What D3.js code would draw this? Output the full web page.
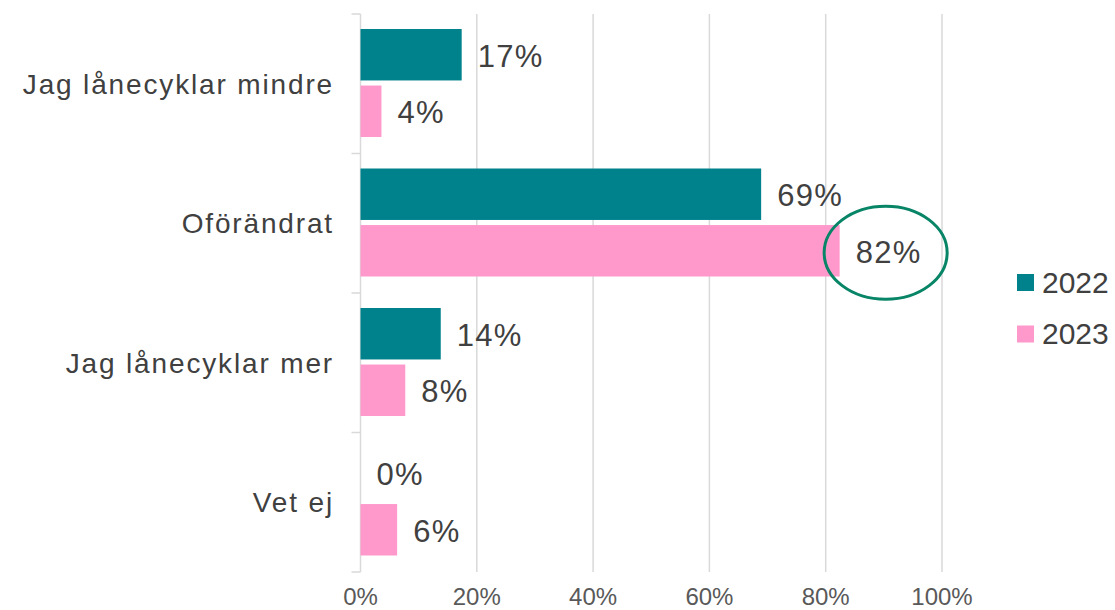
<!DOCTYPE html>
<html>
<head>
<meta charset="utf-8">
<script src="https://cdn.jsdelivr.net/npm/d3@7"></script>
<style>
  body { margin: 0; background: #fff; }
  text { font-family: Arial, "Liberation Sans", sans-serif; }
</style>
</head>
<body>
<script>
// data
var categories = ['Jag lånecyklar mindre', 'Oförändrat', 'Jag lånecyklar mer', 'Vet ej'];
var years = ['2022', '2023'];
var values2022 = [0.174, 0.689, 0.138, 0];
var values2023 = [0.036, 0.824, 0.077, 0.063];
var xTicks = [0, 0.2, 0.4, 0.6, 0.8, 1];
var highlight = { category: 'Oförändrat', year: '2023' };

var WIDTH = 1115;
var HEIGHT = 610;
var colors = { '2022': '#00828C', '2023': '#FF99CC' };

var svg = d3.select('body').append('svg')
    .attr('width', WIDTH)
    .attr('height', HEIGHT);

var x = d3.scaleLinear().domain([0, 1]).range([360.5, 942]);
var y = d3.scaleBand().domain(categories).range([14, 572]);
var ySub = d3.scaleBand().domain(years).range([15, y.bandwidth() - 16.5]).paddingInner(0.09);

var rows = [];
categories.forEach(function(c, i){
    rows.push({ category: c, year: '2022', value: values2022[i] });
    rows.push({ category: c, year: '2023', value: values2023[i] });
});

// gridlines
svg.selectAll('.grid').data(xTicks.slice(1)).enter()
    .append('line')
    .attr('class', 'grid')
    .attr('x1', function(d){ return x(d); })
    .attr('x2', function(d){ return x(d); })
    .attr('y1', 14)
    .attr('y2', 572)
    .attr('stroke', '#d9d9d9')
    .attr('stroke-width', 1.5);

// vertical axis line + category ticks
svg.append('line')
    .attr('x1', x(0)).attr('x2', x(0))
    .attr('y1', 14).attr('y2', 572)
    .attr('stroke', '#d9d9d9')
    .attr('stroke-width', 1.5);

var boundaries = categories.map(function(c){ return y(c); }).concat([572]);
svg.selectAll('.ytick').data(boundaries).enter()
    .append('line')
    .attr('class', 'ytick')
    .attr('x1', x(0) - 9).attr('x2', x(0))
    .attr('y1', function(d){ return d; })
    .attr('y2', function(d){ return d; })
    .attr('stroke', '#d9d9d9')
    .attr('stroke-width', 1.5);

// category labels
svg.selectAll('.cat').data(categories).enter()
    .append('text')
    .attr('class', 'cat')
    .attr('x', 334)
    .attr('y', function(d){ return y(d) + y.bandwidth() / 2 + 10; })
    .attr('text-anchor', 'end')
    .attr('font-size', 28)
    .attr('letter-spacing', 1.85)
    .attr('fill', '#404040')
    .text(function(d){ return d; });

// x tick labels
svg.selectAll('.xtick').data(xTicks).enter()
    .append('text')
    .attr('class', 'xtick')
    .attr('x', function(d){ return x(d); })
    .attr('y', 605)
    .attr('text-anchor', 'middle')
    .attr('font-size', 24)
    .attr('fill', '#595959')
    .text(function(d){ return Math.round(d * 100) + '%'; });

// bars
svg.selectAll('.bar').data(rows).enter()
    .append('rect')
    .attr('class', 'bar')
    .attr('x', x(0))
    .attr('y', function(d){ return y(d.category) + ySub(d.year); })
    .attr('width', function(d){ return x(d.value) - x(0); })
    .attr('height', ySub.bandwidth())
    .attr('fill', function(d){ return colors[d.year]; });

// value labels
svg.selectAll('.val').data(rows).enter()
    .append('text')
    .attr('class', 'val')
    .attr('x', function(d){ return x(d.value) + 16; })
    .attr('y', function(d){ return y(d.category) + ySub(d.year) + ySub.bandwidth() / 2 + 12; })
    .attr('font-size', 31)
    .attr('letter-spacing', 1.3)
    .attr('fill', '#404040')
    .text(function(d){ return Math.round(d.value * 100) + '%'; });

// highlight ellipse around the 2023 label
var hv = values2023[categories.indexOf(highlight.category)];
svg.append('ellipse')
    .attr('cx', x(hv) + 15 + 31)
    .attr('cy', y(highlight.category) + ySub(highlight.year) + ySub.bandwidth() / 2 + 2)
    .attr('rx', 61.5)
    .attr('ry', 46.5)
    .attr('fill', 'none')
    .attr('stroke', '#078566')
    .attr('stroke-width', 3);

// legend
var legend = svg.selectAll('.legend').data(years).enter()
    .append('g')
    .attr('class', 'legend')
    .attr('transform', function(d, i){ return 'translate(1017,' + (274 + i * 51.5) + ')'; });
legend.append('rect')
    .attr('width', 17)
    .attr('height', 17)
    .attr('fill', function(d){ return colors[d]; });
legend.append('text')
    .attr('x', 25)
    .attr('y', 18.5)
    .attr('font-size', 30)
    .attr('fill', '#404040')
    .text(function(d){ return d; });
</script>
</body>
</html>
